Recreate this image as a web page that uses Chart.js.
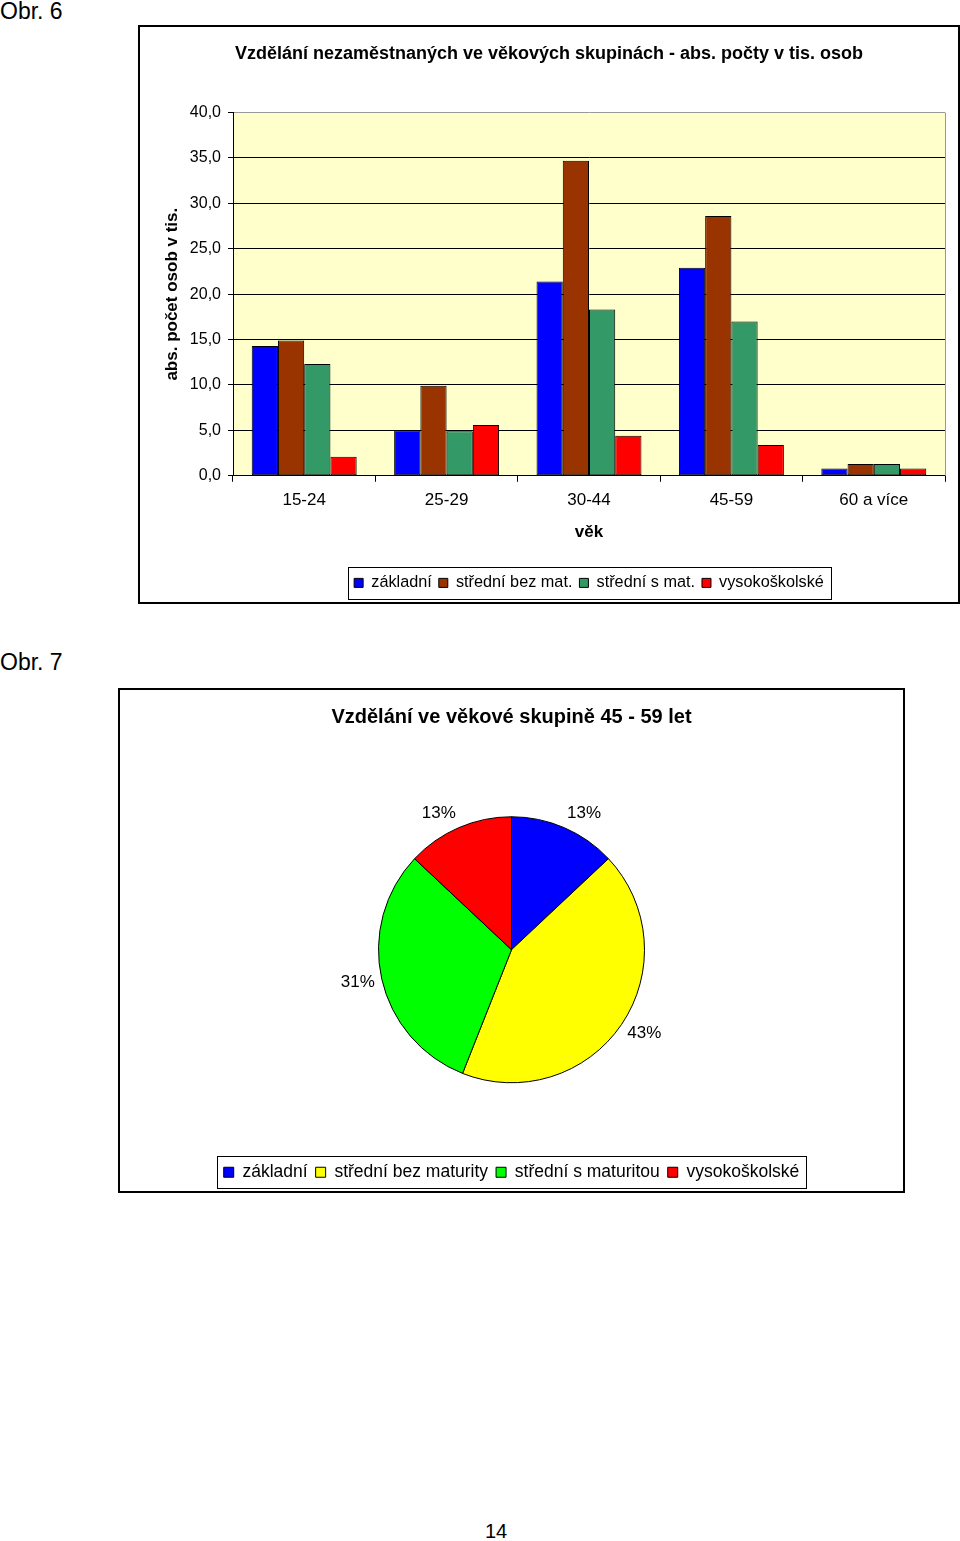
<!DOCTYPE html>
<html lang="cs">
<head>
<meta charset="utf-8">
<title>Obr. 6 a Obr. 7</title>
<script src="https://cdn.jsdelivr.net/npm/chart.js@4.4.1/dist/chart.umd.min.js"></script>
<style>
  body { margin: 0; background: #fff; width: 960px; height: 1541px; position: relative;
         font-family: "Liberation Sans", Arial, sans-serif; color: #000; }
  .cap { position: absolute; font-size: 23px; line-height: 1; }
  .box { position: absolute; border: 2px solid #000; box-sizing: border-box; }
  .box canvas { display: block; }
</style>
</head>
<body>
<div class="cap" style="left:0;top:0">Obr. 6</div>
<div class="box" style="left:138px;top:25px;width:822px;height:579px">
  <canvas id="bar" width="818" height="575"></canvas>
</div>
<div class="cap" style="left:0;top:651px">Obr. 7</div>
<div class="box" style="left:118px;top:688px;width:787px;height:505px">
  <canvas id="pie" width="783" height="501"></canvas>
</div>
<div class="cap" style="left:485px;top:1521px;font-size:20px">14</div>

<script>
// Obr. 6 - vzdelani nezamestnanych podle veku (tis. osob)
const vekoveSkupiny = ['15-24', '25-29', '30-44', '45-59', '60 a více'];
const zakladni      = [14.3, 5.0, 21.4, 22.9, 0.8];
const stredniBezMat = [14.9, 9.9, 34.7, 28.6, 1.3];
const stredniSMat   = [12.3, 4.9, 18.3, 17.0, 1.3];
const vysokoskolske = [2.1, 5.6, 4.4, 3.4, 0.8];

// Obr. 7 - skupina 45-59 v procentech
const pieLabels = ['základní', 'střední bez maturity', 'střední s maturitou', 'vysokoškolské'];
const piePct    = [13, 43, 31, 13];

Chart.defaults.font.family = '"Liberation Sans", Arial, sans-serif';
Chart.defaults.color = '#000';

// yellow plot area + grey right edge like in excel
const plotArea = {
  id: 'plotArea',
  beforeDraw(chart) {
    const {ctx, chartArea: a} = chart;
    ctx.save();
    ctx.fillStyle = '#FFFFCC';
    ctx.fillRect(a.left, a.top, a.right - a.left, a.bottom - a.top);
    ctx.restore();
  },
  afterDatasetsDraw(chart) {
    const {ctx, chartArea: a} = chart;
    ctx.save();
    ctx.strokeStyle = '#999';
    ctx.lineWidth = 1;
    ctx.beginPath();
    ctx.moveTo(Math.round(a.right) + 0.5, a.top);
    ctx.lineTo(Math.round(a.right) + 0.5, a.bottom);
    ctx.stroke();
    ctx.restore();
  }
};

// frame around the legend
const legendFrame = {
  id: 'legendFrame',
  afterDraw(chart, args, opts) {
    const hb = chart.legend.legendHitBoxes;
    if (!hb || !hb.length) return;
    const ctx = chart.ctx;
    const left = Math.min(...hb.map(h => h.left)) - opts.padL;
    const right = Math.max(...hb.map(h => h.left + h.width)) + opts.padR;
    const cy = hb[0].top + hb[0].height / 2;
    ctx.save();
    ctx.strokeStyle = '#000';
    ctx.lineWidth = 1;
    ctx.strokeRect(Math.round(left) + 0.5, Math.round(cy - 16) + 0.5, Math.round(right - left), 32);
    ctx.restore();
  }
};

// percent labels outside the slices, pushed out by half the text box (excel style)
const pieText = {
  id: 'pieText',
  afterDatasetsDraw(chart, args, opts) {
    const ctx = chart.ctx;
    const meta = chart.getDatasetMeta(0);
    ctx.save();
    ctx.font = '17px "Liberation Sans", Arial, sans-serif';
    ctx.fillStyle = '#000';
    ctx.textAlign = 'center';
    ctx.textBaseline = 'middle';
    meta.data.forEach((arc, i) => {
      const p = arc.getProps(['x', 'y', 'startAngle', 'endAngle', 'outerRadius'], true);
      const mid = (p.startAngle + p.endAngle) / 2;
      const r = p.outerRadius + opts.offset;
      const txt = piePct[i] + '%';
      const w = ctx.measureText(txt).width;
      const dx = Math.cos(mid), dy = Math.sin(mid);
      const tx = p.x + dx * r + Math.sign(dx) * w / 2;
      const ty = p.y + dy * r + dy * 9;
      ctx.fillText(txt, tx, ty);
    });
    ctx.restore();
  }
};

function barSet(label, data, color) {
  return {
    label: label,
    data: data,
    backgroundColor: color,
    borderColor: '#000',
    borderWidth: 1,
    borderSkipped: false,
    categoryPercentage: 0.737,
    barPercentage: 1.0
  };
}

new Chart(document.getElementById('bar'), {
  type: 'bar',
  data: {
    labels: vekoveSkupiny,
    datasets: [
      barSet('základní', zakladni, '#0000FF'),
      barSet('střední bez mat.', stredniBezMat, '#993300'),
      barSet('střední s mat.', stredniSMat, '#339966'),
      barSet('vysokoškolské', vysokoskolske, '#FF0000')
    ]
  },
  options: {
    responsive: false,
    animation: false,
    layout: {padding: {left: 13, right: 13, top: 0, bottom: 1}},
    plugins: {
      title: {
        display: true,
        text: 'Vzdělání nezaměstnaných ve věkových skupinách - abs. počty v tis. osob',
        font: {size: 18, weight: 'bold'},
        padding: {top: 16, bottom: 48}
      },
      legend: {
        position: 'bottom',
        fullSize: false,
        labels: {boxWidth: 9, boxHeight: 9, padding: 7, font: {size: 16.25}}
      },
      tooltip: {enabled: false},
      legendFrame: {padL: 6, padR: 7}
    },
    scales: {
      x: {
        grid: {offset: true, drawOnChartArea: false, tickLength: 6, color: '#000'},
        border: {color: '#000'},
        ticks: {padding: 8, font: {size: 17}},
        title: {display: true, text: 'věk', font: {size: 17, weight: 'bold'}, padding: {top: 0, bottom: 25}},
        afterFit(s) { s.height = 92; }
      },
      y: {
        min: 0,
        max: 40,
        ticks: {
          stepSize: 5,
          padding: 7,
          font: {size: 16},
          callback: v => v.toFixed(1).replace('.', ',')
        },
        grid: {
          color: c => (c.tick && c.tick.value === 40) ? '#999' : '#000',
          tickColor: '#000',
          tickLength: 5
        },
        border: {color: '#000'},
        title: {
          display: true,
          text: 'abs. počet osob v tis.',
          font: {size: 17, weight: 'bold'},
          padding: {top: 9, bottom: 0}
        },
        afterFit(s) { s.width = 80; }
      }
    }
  },
  plugins: [plotArea, legendFrame]
});

new Chart(document.getElementById('pie'), {
  type: 'pie',
  data: {
    labels: pieLabels,
    datasets: [{
      data: piePct,
      backgroundColor: ['#0000FF', '#FFFF00', '#00FF00', '#FF0000'],
      borderColor: '#000',
      borderWidth: 1,
      radius: 133
    }]
  },
  options: {
    responsive: false,
    animation: false,
    layout: {padding: 0},
    plugins: {
      title: {
        display: true,
        text: 'Vzdělání ve věkové skupině 45 - 59 let',
        font: {size: 20, weight: 'bold'},
        padding: {top: 15, bottom: 15}
      },
      legend: {
        position: 'bottom',
        labels: {boxWidth: 10, boxHeight: 10, padding: 8, font: {size: 17.5}}
      },
      tooltip: {enabled: false},
      legendFrame: {padL: 7, padR: 6},
      pieText: {offset: 7}
    }
  },
  plugins: [legendFrame, pieText]
});
</script>
</body>
</html>
